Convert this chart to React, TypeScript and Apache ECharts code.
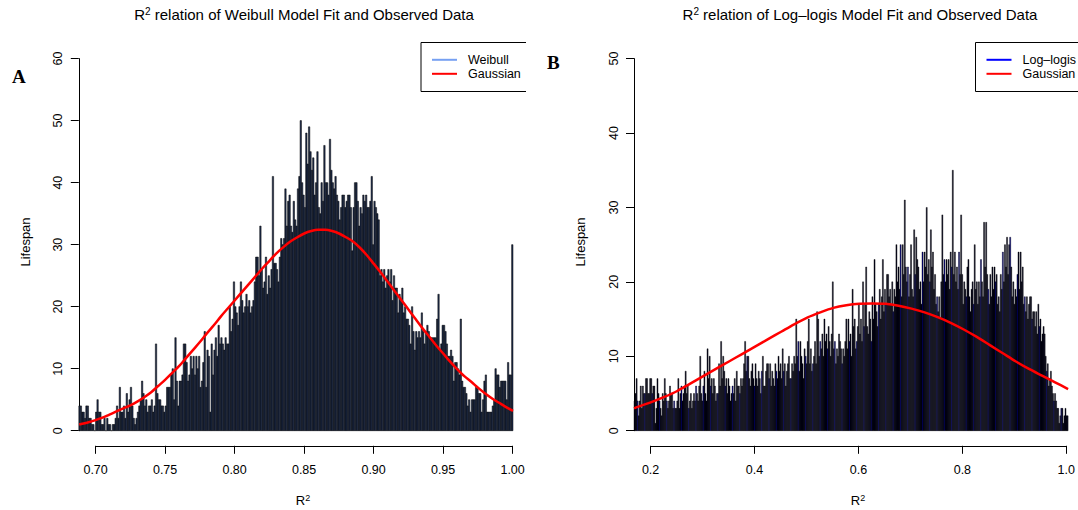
import React, { useEffect, useRef } from 'react';
import * as echarts from 'echarts';

const FONT = "'Liberation Sans', Arial, Helvetica, sans-serif";

// Panel A: Weibull R^2 histogram (bin width 0.001 starting at 0.688)
const leftBinStart = 0.688;
const leftBinWidth = 0.001;
const leftCounts = [
  4,4,3,3,2,4,4,2,2,1, 1,0,3,5,3,3,1,1,2,0,
  2,1,1,0,1,1,2,4,2,7, 3,3,4,2,6,3,5,7,4,2,
  1,2,3,4,5,8,6,4,5,3, 4,4,5,3,4,14,6,5,5,4,
  4,3,4,7,7,7,9,10,5,15, 8,4,8,8,9,14,14,11,8,9,
  12,10,12,9,12,10,12,7,8,11, 16,7,13,12,3,14,9,13,15,12,
  17,14,15,14,13,15,14,14,20,16, 18,24,20,19,17,20,24,21,19,20,
  22,20,21,19,20,21,24,28,28,25, 33,26,23,24,28,22,25,23,26,41,
  27,27,26,24,28,31,30,31,39,33, 37,38,33,32,37,34,33,39,41,50,
  40,38,36,48,43,49,45,42,44,38, 40,45,36,35,40,37,46,40,40,38,
  47,42,40,39,41,38,37,34,36,38, 38,36,37,38,38,36,29,36,40,40,
  37,33,36,35,38,37,38,36,36,37, 41,30,37,36,35,34,25,26,24,26,
  23,25,26,24,26,21,25,23,23,19, 22,21,23,19,20,18,18,17,14,20,
  16,13,16,15,16,15,19,16,14,16, 17,16,15,15,15,15,15,18,22,13,
  14,17,17,16,14,12,12,13,12,8, 11,11,10,9,18,8,7,7,6,4,
  5,3,5,5,5,7,7,6,6,3, 5,8,9,3,3,3,3,4,5,10,
  9,9,7,8,8,8,8,5,11,9, 9,30
];
const leftCurveX = [
  0.6883,0.695,0.70,0.705,0.71,0.715,0.72,0.725,0.73,0.735,0.74,0.745,0.75,0.755,0.76,0.765,0.77,0.775,0.78,0.785,
  0.79,0.795,0.80,0.805,0.81,0.815,0.82,0.825,0.83,0.835,0.84,0.845,0.85,0.855,0.86,0.865,0.87,0.875,0.88,0.885,
  0.89,0.895,0.90,0.905,0.91,0.915,0.92,0.925,0.93,0.935,0.94,0.945,0.95,0.955,0.96,0.965,0.97,0.975,0.98,0.985,
  0.99,0.995,1.00
];
const leftCurveY = [
  1.0,1.35,1.7,2.1,2.6,3.1,3.6,4.1,4.7,5.4,6.2,7.2,8.2,9.3,10.4,11.7,13.0,14.3,15.7,17.0,
  18.4,19.7,21.0,22.3,23.6,24.9,26.2,27.4,28.6,29.6,30.5,31.2,31.8,32.2,32.4,32.4,32.2,31.8,31.2,30.5,
  29.5,28.3,26.9,25.5,24.0,22.5,21.0,19.5,18.0,16.5,15.1,13.7,12.4,11.1,9.9,8.8,7.9,6.9,6.0,5.2,
  4.5,3.8,3.2
];

// Panel B: Log-logistic R^2 histogram (bin width 0.002 starting at 0.168)
const rightBinStart = 0.168;
const rightBinWidth = 0.002;
const rightCounts = [
  4,5,7,4,2,4,6,3,6,5, 5,7,7,5,5,7,7,5,6,6,
  1,3,7,5,4,3,2,5,4,7, 5,4,3,4,6,5,5,3,4,3,
  3,4,7,3,5,6,4,5,6,8, 5,6,3,4,5,3,4,5,4,6,
  5,4,6,10,5,4,6,8,5,4, 11,7,10,6,7,5,7,6,4,5,
  5,9,6,12,7,10,8,6,7,5, 7,6,4,5,6,5,7,4,8,6,
  6,5,7,6,7,9,12,8,10,10, 7,6,8,9,7,6,9,7,6,8,
  7,5,8,10,6,6,8,9,9,7, 9,6,8,7,6,9,8,7,10,8,
  9,7,11,8,9,6,8,9,10,7, 7,9,8,10,9,15,10,12,8,12,
  10,9,7,11,10,9,12,15,9,11, 8,9,10,12,9,16,15,10,12,11,
  13,10,15,12,13,11,14,12,10,13, 20,11,12,9,11,10,13,12,11,9,
  11,10,12,15,11,15,12,13,10,19, 14,15,11,12,14,17,13,15,12,20,
  14,17,22,14,13,16,15,12,18,15, 23,17,16,14,17,19,15,18,23,16,
  19,17,21,21,18,19,17,20,16,19, 18,25,20,22,19,25,18,25,21,31,
  22,20,22,18,21,25,19,18,27,21, 26,23,22,19,20,17,24,20,24,22,
  30,21,23,20,27,22,24,19,21,17, 18,16,18,15,20,29,21,23,20,23,
  21,23,19,24,22,35,21,24,20,22, 19,24,21,29,21,17,20,19,18,22,
  23,18,16,19,20,17,25,19,20,17, 20,18,23,20,18,28,22,28,21,19,
  17,21,18,22,19,22,20,21,17,18, 16,21,19,24,20,25,22,26,21,25,
  26,22,18,20,17,19,18,21,24,19, 24,20,22,17,18,16,18,15,17,18,
  18,15,16,16,14,16,13,17,14,15, 12,13,14,13,10,8,9,6,7,8,
  6,5,4,5,4,3,3,1,2,3, 3,1,2,3,2,2
];
const rightCurveX = [
  0.168,0.175,0.20,0.225,0.25,0.275,0.30,0.325,0.35,0.375,0.40,0.425,0.45,0.475,0.50,0.525,0.55,0.575,
  0.60,0.625,0.65,0.675,0.70,0.725,0.75,0.775,0.80,0.825,0.85,0.875,0.90,0.925,0.95,0.975,1.00
];
const rightCurveY = [
  3.0,3.2,3.8,4.5,5.3,6.3,7.3,8.3,9.3,10.3,11.3,12.3,13.3,14.3,15.2,15.9,16.5,16.85,
  17.05,17.1,17.05,16.8,16.4,15.9,15.25,14.5,13.6,12.6,11.5,10.4,9.3,8.3,7.4,6.5,5.6
];

function barSeries(xi: number, yi: number, start: number, width: number, counts: number[], fill: (i: number) => string, stroke: string, lw: number) {
  return {
    type: 'custom',
    xAxisIndex: xi,
    yAxisIndex: yi,
    silent: true,
    z: 2,
    data: counts.map((c, i) => [start + i * width, c]),
    encode: { x: 0, y: 1 },
    renderItem: (params: any, api: any) => {
      const x = api.value(0);
      const y = api.value(1);
      const a = api.coord([x, y]);
      const b = api.coord([x + width, 0]);
      return {
        type: 'rect',
        shape: { x: a[0], y: a[1], width: b[0] - a[0], height: b[1] - a[1] },
        style: { fill: fill(params.dataIndex), stroke, lineWidth: lw },
      };
    },
  };
}

function curveSeries(xi: number, yi: number, xs: number[], ys: number[]) {
  return {
    type: 'line',
    xAxisIndex: xi,
    yAxisIndex: yi,
    data: xs.map((x, i) => [x, ys[i]]),
    smooth: 0.3,
    showSymbol: false,
    silent: true,
    z: 5,
    lineStyle: { color: '#ff0000', width: 2.5 },
  };
}

function yAxisCfg(gridIndex: number, max: number) {
  return {
    type: 'value',
    gridIndex,
    min: 0,
    max,
    interval: 10,
    axisLine: { show: true, lineStyle: { color: '#000', width: 1 } },
    axisTick: { show: true, inside: false, length: 8, lineStyle: { color: '#000', width: 1 } },
    axisLabel: { rotate: 90, margin: 14, fontSize: 12.5, color: '#000', fontFamily: FONT },
    splitLine: { show: false },
  };
}

function hiddenX(gridIndex: number, min: number, max: number) {
  return { type: 'value', gridIndex, min, max, show: false, splitLine: { show: false } };
}

function shownX(gridIndex: number, min: number, max: number, interval: number, digits: number) {
  return {
    type: 'value',
    gridIndex,
    min,
    max,
    interval,
    position: 'bottom',
    axisLine: { show: true, onZero: false, lineStyle: { color: '#000', width: 1 } },
    axisTick: { show: true, inside: false, length: 8, lineStyle: { color: '#000', width: 1 } },
    axisLabel: {
      margin: 18,
      fontSize: 12.5,
      color: '#000',
      fontFamily: FONT,
      showMinLabel: true,
      showMaxLabel: true,
      formatter: (v: number) => v.toFixed(digits),
    },
    splitLine: { show: false },
  };
}

function hiddenY(gridIndex: number) {
  return { type: 'value', gridIndex, min: 0, max: 1, show: false, splitLine: { show: false } };
}

function titleText(x: number, rest: string) {
  return {
    type: 'text',
    x,
    y: 14,
    style: {
      text: '{a|R}{s|2}{a|' + rest + '}',
      rich: {
        a: { fontSize: 15, fontFamily: FONT, fill: '#000' },
        s: { fontSize: 10, fontFamily: FONT, fill: '#000', verticalAlign: 'top' },
      },
      align: 'center',
      verticalAlign: 'middle',
    },
  };
}

function r2Text(x: number) {
  return {
    type: 'text',
    x,
    y: 500,
    style: {
      text: '{a|R}{s|2}',
      rich: {
        a: { fontSize: 13, fontFamily: FONT, fill: '#000' },
        s: { fontSize: 9, fontFamily: FONT, fill: '#000', verticalAlign: 'top' },
      },
      align: 'center',
      verticalAlign: 'middle',
    },
  };
}

function plainText(x: number, y: number, text: string, extra: any = {}) {
  return {
    type: 'text',
    x,
    y,
    ...extra,
    style: { text, fontSize: 12.5, fontFamily: FONT, fill: '#000', verticalAlign: 'middle', ...(extra.style || {}) },
  };
}

function legend(boxLeft: number, boxRight: number, label1: string, color1: string) {
  const r1 = 59.8;
  const r2 = 73.8;
  return [
    {
      type: 'polyline',
      shape: { points: [[boxRight, 42.5], [boxLeft, 42.5], [boxLeft, 91.5], [boxRight, 91.5]] },
      style: { stroke: '#000', lineWidth: 1, fill: 'none' },
    },
    { type: 'line', shape: { x1: boxLeft + 11, y1: r1, x2: boxLeft + 36, y2: r1 }, style: { stroke: color1, lineWidth: 2 } },
    { type: 'line', shape: { x1: boxLeft + 11, y1: r2, x2: boxLeft + 36, y2: r2 }, style: { stroke: '#ff0000', lineWidth: 2 } },
    plainText(boxLeft + 47, r1, label1),
    plainText(boxLeft + 47, r2, 'Gaussian'),
  ];
}

const option: any = {
  animation: false,
  backgroundColor: '#ffffff',
  grid: [
    { left: 78.8, top: 58.6, width: 434.2, height: 372.1 },
    { left: 95.6, top: 440, width: 417, height: 5.8 },
    { left: 634, top: 58.6, width: 434.1, height: 372.1 },
    { left: 650.6, top: 440, width: 417.4, height: 5.8 },
  ],
  xAxis: [
    hiddenX(0, 0.688, 1.0),
    shownX(1, 0.7, 1.0, 0.05, 2),
    hiddenX(2, 0.168, 1.0),
    shownX(3, 0.2, 1.0, 0.2, 1),
  ],
  yAxis: [yAxisCfg(0, 60), hiddenY(1), yAxisCfg(2, 50), hiddenY(3)],
  series: [
    barSeries(0, 0, leftBinStart, leftBinWidth, leftCounts, () => '#1f2e4f', '#000000', 0.5),
    curveSeries(0, 0, leftCurveX, leftCurveY),
    barSeries(2, 2, rightBinStart, rightBinWidth, rightCounts, (i) => (i % 7 === 3 ? '#000090' : '#03031c'), '#000000', 0.4),
    curveSeries(2, 2, rightCurveX, rightCurveY),
  ],
  graphic: [
    titleText(304, ' relation of Weibull Model Fit and Observed Data'),
    titleText(860, ' relation of Log\u2013logis Model Fit and Observed Data'),
    r2Text(303),
    r2Text(858),
    plainText(25, 242, 'Lifespan', { rotation: Math.PI / 2, style: { align: 'center', fontSize: 13 } }),
    plainText(580, 242, 'Lifespan', { rotation: Math.PI / 2, style: { align: 'center', fontSize: 13 } }),
    {
      type: 'text', x: 12, y: 76,
      style: { text: 'A', font: 'bold 19px "Liberation Serif", "Times New Roman", serif', fill: '#000', verticalAlign: 'middle' },
    },
    {
      type: 'text', x: 547, y: 62,
      style: { text: 'B', font: 'bold 19px "Liberation Serif", "Times New Roman", serif', fill: '#000', verticalAlign: 'middle' },
    },
    ...legend(421, 526, 'Weibull', '#76a0f2'),
    ...legend(975.5, 1085, 'Log\u2013logis', '#0000ff'),
  ],
};

export default function App() {
  const ref = useRef<HTMLDivElement>(null);
  useEffect(() => {
    const chart = echarts.init(ref.current as HTMLDivElement, null, { renderer: 'svg' });
    chart.setOption(option);
    return () => chart.dispose();
  }, []);
  return (
    <div
      ref={ref}
      style={{ position: 'fixed', left: 0, top: 0, width: 1078, height: 510, background: '#fff' }}
    />
  );
}
